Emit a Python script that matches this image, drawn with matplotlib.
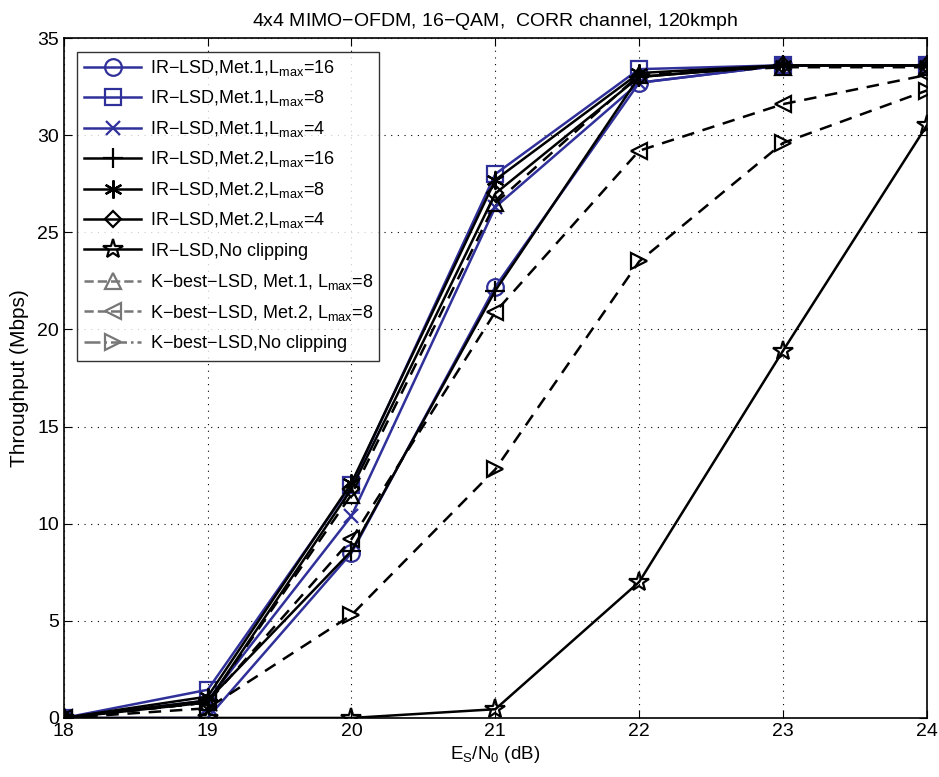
import matplotlib.pyplot as plt
from matplotlib.lines import Line2D

plt.rcParams['font.family'] = ['Liberation Sans', 'DejaVu Sans']
plt.rcParams['mathtext.fontset'] = 'custom'
plt.rcParams['mathtext.rm'] = 'Liberation Sans'
plt.rcParams['mathtext.it'] = 'Liberation Sans'

snr = [18, 19, 20, 21, 22, 23, 24]

ir_met1_l16 = [0, 0.0, 8.5, 22.2, 32.7, 33.6, 33.6]
ir_met1_l8 = [0, 1.45, 12.0, 28.0, 33.4, 33.6, 33.6]
ir_met1_l4 = [0, 0.9, 10.4, 26.3, 32.7, 33.6, 33.6]
ir_met2_l16 = [0, 0.9, 8.6, 22.0, 33.0, 33.6, 33.6]
ir_met2_l8 = [0, 1.1, 12.1, 27.7, 33.2, 33.6, 33.6]
ir_met2_l4 = [0, 0.8, 11.8, 27.0, 33.0, 33.6, 33.6]
ir_noclip = [0, 0.0, 0.0, 0.45, 7.0, 18.9, 30.5]
kb_met1_l8 = [0, 0.8, 11.5, 26.5, 33.1, 33.5, 33.5]
kb_met2_l8 = [0, 0.8, 9.2, 20.9, 29.2, 31.6, 33.1]
kb_noclip = [0, 0.5, 5.3, 12.8, 23.5, 29.6, 32.3]

labels = [
    r'IR$-$LSD,Met.1,L$_{max}$=16',
    r'IR$-$LSD,Met.1,L$_{max}$=8',
    r'IR$-$LSD,Met.1,L$_{max}$=4',
    r'IR$-$LSD,Met.2,L$_{max}$=16',
    r'IR$-$LSD,Met.2,L$_{max}$=8',
    r'IR$-$LSD,Met.2,L$_{max}$=4',
    r'IR$-$LSD,No clipping',
    r'K$-$best$-$LSD, Met.1, L$_{max}$=8',
    r'K$-$best$-$LSD, Met.2, L$_{max}$=8',
    r'K$-$best$-$LSD,No clipping',
]

blue = '#30309a'
asterisk = (6, 2, 0)
# data, colour, marker, linestyle, markersize
series = [
    (ir_met1_l16, blue, 'o', '-', 12),
    (ir_met1_l8, blue, 's', '-', 11),
    (ir_met1_l4, blue, 'x', '-', 10),
    (ir_met2_l16, 'black', '+', '-', 14),
    (ir_met2_l8, 'black', asterisk, '-', 13),
    (ir_met2_l4, 'black', 'D', '-', 8),
    (ir_noclip, 'black', '*', '-', 15),
    (kb_met1_l8, 'black', '^', '--', 12),
    (kb_met2_l8, 'black', '<', '--', 12),
    (kb_noclip, 'black', '>', '--', 12),
]

fig = plt.figure(figsize=(9.39, 7.77), dpi=100)
ax = fig.add_axes([0.068, 0.076, 0.919, 0.875])

for (y, c, m, ls, ms) in series:
    line, = ax.plot(snr, y, color=c, marker=m, linestyle=ls, linewidth=1.8,
                    markersize=ms, markerfacecolor='none', markeredgewidth=1.6)
    if ls == '--':
        line.set_dashes((5, 3.5))

# legend handles (K-best entries drawn grey as in the reference)
handles = []
for i, (y, c, m, ls, ms) in enumerate(series):
    col = '#777777' if i >= 7 else c
    style = '-.' if i == 9 else ls
    handles.append(Line2D([], [], color=col, marker=m, linestyle=style,
                          linewidth=1.8, markersize=ms, markerfacecolor='none',
                          markeredgewidth=1.6))
leg = ax.legend(handles, labels, loc='upper left', fontsize=13,
                frameon=True, fancybox=False, edgecolor='black',
                borderaxespad=0.75, handlelength=3.2, labelspacing=0.58,
                borderpad=0.35, handletextpad=0.45)
leg.get_frame().set_linewidth(1.0)

ax.set_xlim(18, 24)
ax.set_ylim(0, 35)
ax.set_xticks(snr)
ax.set_yticks(range(0, 36, 5))
ax.grid(True, linestyle=(0, (1, 5)), color='black', linewidth=0.8)
ax.tick_params(direction='in', top=True, right=True, labelsize=14, length=6)
for s in ax.spines.values():
    s.set_linewidth(1.2)

ax.set_title('4x4 MIMO$-$OFDM, 16$-$QAM,  CORR channel, 120kmph',
             fontsize=14, pad=9,
             family=['Liberation Sans Narrow', 'Liberation Sans', 'DejaVu Sans'])
ax.set_xlabel(r'E$_S$/N$_0$ (dB)', fontsize=13.5, labelpad=3)
ax.set_ylabel('Throughput (Mbps)', fontsize=15, labelpad=6)

fig.savefig('out.png', dpi=100)
